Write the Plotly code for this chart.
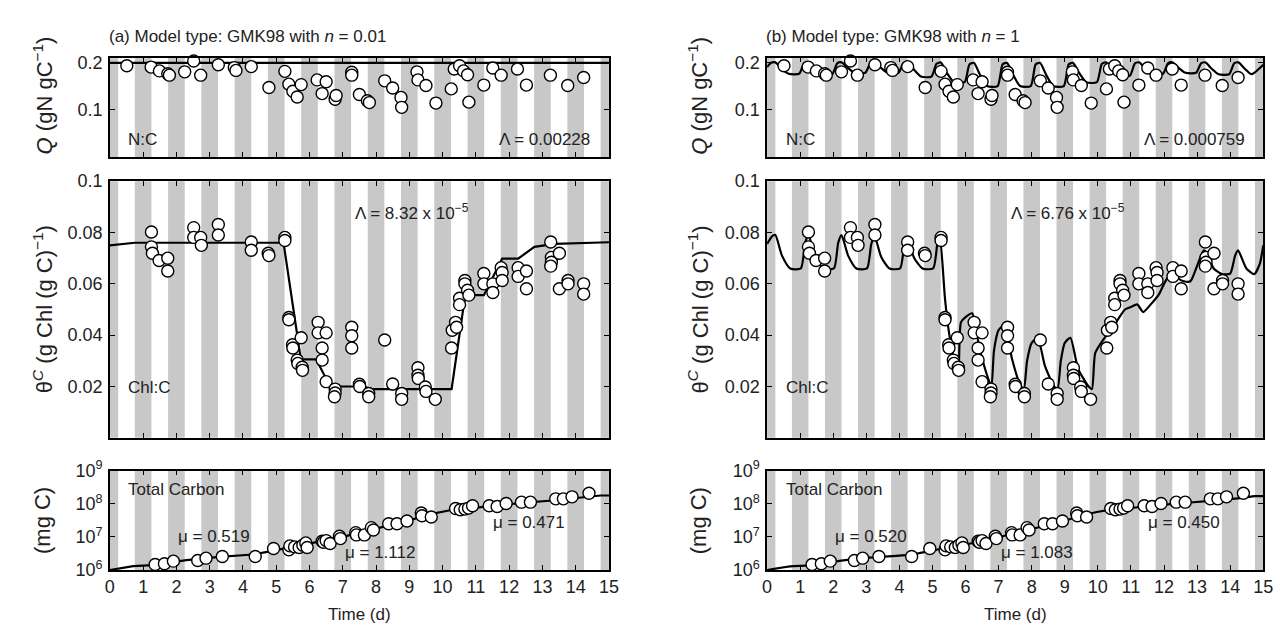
import plotly.graph_objects as go
from plotly.subplots import make_subplots

W, H = 1285, 629
FONT = "Liberation Sans, Arial, sans-serif"

# ---------------- observations (shared by both panels) ----------------
nc_t = [0.51, 1.24, 1.49, 1.74, 1.79, 2.25, 2.52, 2.73, 3.26, 3.74, 3.79, 4.25, 4.78, 5.26, 5.38,
        5.50, 5.63, 5.75, 6.23, 6.50, 6.38, 6.77, 6.80, 7.27, 7.27, 7.50, 7.74, 7.80, 8.26, 8.50,
        8.75, 8.77, 9.23, 9.26, 9.50, 9.80, 10.26, 10.35, 10.51, 10.63, 10.75, 10.79, 11.24, 11.51,
        11.76, 12.25, 12.52, 13.24, 13.76, 14.24]
nc_v = [0.193, 0.190, 0.182, 0.176, 0.173, 0.180, 0.203, 0.173, 0.195, 0.189, 0.183, 0.191, 0.147,
        0.181, 0.154, 0.139, 0.127, 0.153, 0.163, 0.159, 0.134, 0.122, 0.130, 0.179, 0.173, 0.132,
        0.119, 0.115, 0.161, 0.146, 0.126, 0.105, 0.180, 0.163, 0.151, 0.114, 0.144, 0.186, 0.193,
        0.182, 0.174, 0.116, 0.152, 0.188, 0.173, 0.186, 0.152, 0.173, 0.151, 0.168]

chl_t = [1.25, 1.25, 1.28, 1.48, 1.74, 1.74, 2.52, 2.52, 2.73, 2.75, 3.26, 3.26, 4.25, 4.25, 4.76,
         4.78, 5.26, 5.26, 5.38, 5.38, 5.49, 5.50, 5.63, 5.65, 5.75, 5.78, 5.79, 6.26, 6.26, 6.50,
         6.38, 6.38, 6.50, 6.77, 6.77, 6.75, 7.27, 7.27, 7.27, 7.50, 7.51, 7.78, 7.78, 8.26, 8.50,
         8.77, 8.77, 9.26, 9.26, 9.27, 9.48, 9.50, 9.78, 10.27, 10.29, 10.39, 10.42, 10.51, 10.51,
         10.67, 10.67, 10.75, 10.79, 11.24, 11.24, 11.51, 11.51, 11.76, 11.79, 11.79, 12.27, 12.27,
         12.52, 12.52, 13.25, 13.27, 13.27, 13.25, 13.51, 13.51, 13.77, 13.77, 14.24, 14.24]
chl_v = [0.0802, 0.0744, 0.0719, 0.0691, 0.0700, 0.0650, 0.0819, 0.0781, 0.0781, 0.0750, 0.0831,
         0.0790, 0.0763, 0.0731, 0.0719, 0.0710, 0.0781, 0.0769, 0.0469, 0.0460, 0.0363, 0.0350,
         0.0303, 0.0290, 0.0390, 0.0275, 0.0263, 0.0450, 0.0409, 0.0409, 0.0350, 0.0303, 0.0219,
         0.0190, 0.0175, 0.0160, 0.0431, 0.0398, 0.0350, 0.0209, 0.0200, 0.0173, 0.0160, 0.0381,
         0.0210, 0.0173, 0.0150, 0.0273, 0.0244, 0.0231, 0.0198, 0.0181, 0.0150, 0.0350, 0.0419,
         0.0450, 0.0431, 0.0544, 0.0519, 0.0613, 0.0600, 0.0575, 0.0556, 0.0640, 0.0600, 0.0600,
         0.0566, 0.0663, 0.0644, 0.0613, 0.0663, 0.0629, 0.0650, 0.0581, 0.0763, 0.0703, 0.0684,
         0.0669, 0.0719, 0.0581, 0.0613, 0.0600, 0.0600, 0.0560]

tc_t = [1.36, 1.64, 1.91, 2.64, 2.89, 3.38, 4.37, 4.92, 5.38, 5.41, 5.55, 5.69, 5.80, 5.89, 5.93,
        6.38, 6.42, 6.50, 6.62, 6.90, 6.93, 7.39, 7.41, 7.65, 7.86, 7.92, 8.38, 8.63, 8.93, 9.36,
        9.38, 9.66, 10.39, 10.53, 10.67, 10.78, 10.90, 11.40, 11.64, 11.91, 12.37, 12.64, 13.40,
        13.63, 13.89, 14.40]
tc_v = [1.48e6, 1.55e6, 1.86e6, 1.95e6, 2.29e6, 2.57e6, 2.57e6, 4.47e6, 4.07e6, 5.37e6, 5.01e6,
        4.79e6, 5.62e6, 6.61e6, 4.79e6, 7.41e6, 6.92e6, 7.76e6, 6.31e6, 1.05e7, 8.91e6, 1.35e7,
        1.15e7, 1.15e7, 1.91e7, 1.62e7, 2.51e7, 2.51e7, 3.02e7, 5.25e7, 4.37e7, 3.98e7, 7.24e7,
        6.61e7, 6.92e7, 7.41e7, 8.71e7, 8.71e7, 8.32e7, 1.02e8, 1.12e8, 1.12e8, 1.41e8, 1.41e8,
        1.62e8, 2.09e8]

# ---------------- model curves ----------------
a_nc_t = [0.0, 15.0]
a_nc_v = [0.199, 0.199]

a_chl_t = [0.0, 0.75, 5.22, 5.74, 6.20, 6.62, 7.65, 7.84, 10.27, 10.68, 11.24, 11.79, 12.27,
           12.76, 13.37, 15.0]
a_chl_v = [0.0750, 0.0760, 0.0760, 0.0306, 0.0306, 0.0200, 0.0200, 0.0190, 0.0190, 0.0556,
           0.0556, 0.0698, 0.0698, 0.0744, 0.0756, 0.0762]

a_tc_t = [0.0, 0.7, 1.3, 2.3, 3.3, 4.3, 5.0, 5.5, 6.0, 7.0, 8.0, 9.0, 9.6, 10.3, 10.8, 11.3,
          12.3, 13.3, 14.3, 14.75, 15.0]
a_tc_v = [1.0e6, 1.32e6, 1.41e6, 2.0e6, 2.51e6, 2.95e6, 3.98e6, 5.01e6, 6.03e6, 1.0e7, 1.78e7,
          3.16e7, 4.79e7, 6.61e7, 7.24e7, 8.32e7, 1.05e8, 1.26e8, 1.58e8, 1.78e8, 1.78e8]

b_nc_t = [0.00, 0.12,
          0.25, 0.45, 0.65, 0.97, 1.12,
          1.25, 1.45, 1.65, 1.97, 2.12,
          2.25, 2.45, 2.65, 2.97, 3.12,
          3.25, 3.45, 3.65, 3.97, 4.12,
          4.25, 4.45, 4.65, 4.97, 5.12,
          5.25, 5.45, 5.65, 5.97, 6.12,
          6.25, 6.45, 6.65, 6.97, 7.12,
          7.25, 7.45, 7.65, 7.97, 8.12,
          8.25, 8.45, 8.65, 8.97, 9.12,
          9.25, 9.45, 9.65, 9.97, 10.12,
          10.25, 10.45, 10.65, 10.97, 11.12,
          11.25, 11.45, 11.65, 11.97, 12.12,
          12.25, 12.45, 12.65, 12.97, 13.12,
          13.25, 13.45, 13.65, 13.97, 14.12,
          14.25, 14.45, 14.65, 15.00]
b_nc_v = [0.190, 0.199,
          0.200, 0.186, 0.176, 0.176, 0.198,
          0.200, 0.185, 0.175, 0.175, 0.198,
          0.200, 0.188, 0.178, 0.178, 0.198,
          0.200, 0.188, 0.178, 0.178, 0.198,
          0.200, 0.184, 0.170, 0.170, 0.197,
          0.200, 0.176, 0.158, 0.158, 0.196,
          0.199, 0.172, 0.150, 0.150, 0.196,
          0.199, 0.172, 0.150, 0.150, 0.196,
          0.199, 0.172, 0.150, 0.150, 0.196,
          0.199, 0.176, 0.158, 0.158, 0.197,
          0.200, 0.184, 0.172, 0.172, 0.198,
          0.200, 0.186, 0.176, 0.176, 0.198,
          0.200, 0.188, 0.178, 0.178, 0.198,
          0.200, 0.186, 0.175, 0.175, 0.198,
          0.200, 0.186, 0.175, 0.195]

b_chl_t = [0.00, 0.15, 0.25, 0.45, 0.70, 1.02, 1.15,
           1.25, 1.45, 1.70, 2.02, 2.15,
           2.25, 2.45, 2.70, 3.02, 3.15,
           3.25, 3.45, 3.70, 4.02, 4.15,
           4.22, 4.45, 4.70, 5.02, 5.15, 5.22,
           5.38, 5.50, 5.68, 5.78, 5.86, 6.00, 6.20, 6.42, 6.66, 6.78,
           6.86, 7.00, 7.18, 7.40, 7.64, 7.76,
           7.86, 8.00, 8.18, 8.40, 8.68, 8.78,
           8.88, 9.00, 9.17, 9.40, 9.72, 9.82,
           9.92, 10.15, 10.33, 10.60, 10.82, 11.00, 11.19, 11.37, 11.60, 11.85,
           12.00, 12.20, 12.30, 12.45, 12.60, 12.80, 13.00, 13.20, 13.30, 13.50, 13.75,
           14.00, 14.15, 14.24, 14.49, 14.73, 14.90, 15.00]
b_chl_v = [0.0755, 0.0785, 0.0790, 0.0710, 0.0660, 0.0660, 0.0760,
           0.0790, 0.0710, 0.0660, 0.0660, 0.0760,
           0.0790, 0.0710, 0.0660, 0.0660, 0.0755,
           0.0785, 0.0705, 0.0660, 0.0660, 0.0755,
           0.0780, 0.0700, 0.0660, 0.0660, 0.0760, 0.0790,
           0.0540, 0.0410, 0.0290, 0.0250, 0.0450, 0.0470, 0.0485, 0.0350, 0.0240, 0.0200,
           0.0340, 0.0420, 0.0440, 0.0310, 0.0210, 0.0190,
           0.0300, 0.0370, 0.0390, 0.0280, 0.0200, 0.0190,
           0.0300, 0.0370, 0.0390, 0.0270, 0.0200, 0.0190,
           0.0330, 0.0380, 0.0410, 0.0460, 0.0500, 0.0510, 0.0520, 0.0490, 0.0520, 0.0560,
           0.0600, 0.0640, 0.0650, 0.0620, 0.0610, 0.0610, 0.0670, 0.0730, 0.0720, 0.0660, 0.0638,
           0.0640, 0.0710, 0.0730, 0.0660, 0.0638, 0.0680, 0.0750]

b_tc_t = [0.0, 0.7, 1.3, 2.3, 3.3, 4.3, 5.0, 5.5, 6.0, 7.0, 8.0, 9.0, 9.6, 10.3, 10.8, 11.3,
          12.3, 13.3, 14.3, 14.75, 15.0]
b_tc_v = [1.0e6, 1.30e6, 1.38e6, 1.95e6, 2.45e6, 2.88e6, 3.89e6, 4.9e6, 5.9e6, 9.8e6, 1.74e7,
          3.09e7, 4.68e7, 6.46e7, 7.08e7, 8.13e7, 1.0e8, 1.2e8, 1.48e8, 1.7e8, 1.7e8]

# night (grey) periods, days
night_start = [-0.25, 0.75, 1.75, 2.75, 3.75, 4.75, 5.75, 6.75, 7.75, 8.75, 9.75, 10.75,
               11.75, 12.75, 13.75, 14.75]
night_end = [0.25, 1.25, 2.25, 3.25, 4.25, 5.25, 6.25, 7.25, 8.25, 9.25, 10.25, 11.25,
             12.25, 13.25, 14.25, 15.25]

panel_titles = ["(a) Model type: GMK98 with <i>n</i> = 0.01", "(b) Model type: GMK98 with <i>n</i> = 1"]
lambda_nc = ["Λ = 0.00228", "Λ = 0.000759"]
lambda_chl = ["Λ = 8.32 x 10<sup>−5</sup>", "Λ = 6.76 x 10<sup>−5</sup>"]
mu_labels = [["μ = 0.519", "μ = 1.112", "μ = 0.471"], ["μ = 0.520", "μ = 1.083", "μ = 0.450"]]
mu_pos_t = [[2.0, 7.0, 11.45], [2.0, 7.0, 11.45]]
mu_pos_logv = [7.02, 6.52, 7.45]

models = [
    dict(nc=(a_nc_t, a_nc_v), chl=(a_chl_t, a_chl_v), tc=(a_tc_t, a_tc_v), shape="linear"),
    dict(nc=(b_nc_t, b_nc_v), chl=(b_chl_t, b_chl_v), tc=(b_tc_t, b_tc_v), shape="spline"),
]

# ---------------- layout geometry (pixels) ----------------
xdom_px = [(98, 603), (763, 1265)]
ydom_px = [(39, 142), (167, 433), (467, 570)]  # from top


def ydom(top, bot):
    return [1 - bot / H, 1 - top / H]


fig = make_subplots(rows=3, cols=2)

GREY = "#c8c8c8"
marker = dict(symbol="circle", size=12, color="white", line=dict(color="black", width=1.4))

for c in range(2):
    m = models[c]
    for r, (obs_t, obs_v, key) in enumerate([(nc_t, nc_v, "nc"), (chl_t, chl_v, "chl"), (tc_t, tc_v, "tc")]):
        mt, mv = m[key]
        if m["shape"] == "spline":
            ln = dict(color="black", width=2.2, shape="spline", smoothing=0.6)
        else:
            ln = dict(color="black", width=2.2)
        fig.add_trace(go.Scatter(x=mt, y=mv, mode="lines", line=ln, hoverinfo="skip",
                                 showlegend=False), row=r + 1, col=c + 1)
        fig.add_trace(go.Scatter(x=obs_t, y=obs_v, mode="markers", marker=marker, showlegend=False,
                                 cliponaxis=False), row=r + 1, col=c + 1)

axis_common = dict(showline=True, linecolor="black", linewidth=1.6, mirror="allticks", ticks="inside",
                   ticklen=5, tickwidth=1, tickcolor="black", showgrid=False, zeroline=False,
                   tickfont=dict(family=FONT, size=18, color="#222"))

yranges = [[0, 0.21], [0, 0.1], [6, 9]]
ytickvals = [[0.1, 0.2], [0.02, 0.04, 0.06, 0.08, 0.1], [1e6, 1e7, 1e8, 1e9]]
yticktext = [["0.1", "0.2"], ["0.02", "0.04", "0.06", "0.08", "0.1"],
             ["10<sup>6</sup>", "10<sup>7</sup>", "10<sup>8</sup>", "10<sup>9</sup>"]]

for r in range(3):
    for c in range(2):
        idx = r * 2 + c + 1
        xa = "xaxis" if idx == 1 else f"xaxis{idx}"
        ya = "yaxis" if idx == 1 else f"yaxis{idx}"
        fig.layout[xa].update(domain=[xdom_px[c][0] / W, xdom_px[c][1] / W], range=[0, 15],
                              tickvals=list(range(16)), showticklabels=(r == 2), **axis_common)
        yextra = dict(type="log") if r == 2 else {}
        fig.layout[ya].update(domain=ydom(*ydom_px[r]), range=yranges[r], tickvals=ytickvals[r],
                              ticktext=yticktext[r], ticklabelstandoff=2, **yextra, **axis_common)
        xref = "x" if idx == 1 else f"x{idx}"
        yref = "y" if idx == 1 else f"y{idx}"
        for s, e in zip(night_start, night_end):
            fig.add_shape(type="rect", xref=xref, yref=yref + " domain", x0=max(s, 0), x1=min(e, 15),
                          y0=0, y1=1, fillcolor=GREY, line=dict(width=0), layer="below")

ann = []
tf = dict(family=FONT, size=17, color="#222")


def xr(i):
    return "x" if i == 1 else f"x{i}"


def yr(i):
    return "y" if i == 1 else f"y{i}"


ylabels = ["<i>Q</i> (gN gC<sup>−1</sup>)", "θ<sup><i>C</i></sup> (g Chl (g C)<sup>−1</sup>)", "(mg C)"]

for c in range(2):
    i1, i2, i3 = 1 + c, 3 + c, 5 + c
    ann.append(dict(text=panel_titles[c], xref="paper", yref="paper", x=(xdom_px[c][0] - 3) / W,
                    y=1 - 17 / H, xanchor="left", yanchor="middle", showarrow=False, font=tf))
    ann.append(dict(text="N:C", xref=xr(i1), yref=yr(i1), x=0.5, y=0.036, xanchor="left",
                    yanchor="middle", showarrow=False, font=tf))
    ann.append(dict(text=lambda_nc[c], xref=xr(i1), yref=yr(i1), x=14.5, y=0.036, xanchor="right",
                    yanchor="middle", showarrow=False, font=tf))
    ann.append(dict(text=lambda_chl[c], xref=xr(i2), yref=yr(i2), x=7.3, y=0.088, xanchor="left",
                    yanchor="middle", showarrow=False, font=tf))
    ann.append(dict(text="Chl:C", xref=xr(i2), yref=yr(i2), x=0.5, y=0.0195, xanchor="left",
                    yanchor="middle", showarrow=False, font=tf))
    ann.append(dict(text="Total Carbon", xref=xr(i3), yref=yr(i3), x=0.5, y=8.42, xanchor="left",
                    yanchor="middle", showarrow=False, font=tf))
    for k in range(3):
        ann.append(dict(text=mu_labels[c][k], xref=xr(i3), yref=yr(i3), x=mu_pos_t[c][k],
                        y=mu_pos_logv[k], xanchor="left", yanchor="middle", showarrow=False, font=tf))
    xl = (30 if c == 0 else 693) / W
    for r in range(3):
        top, bot = ydom_px[r]
        yc = (top + bot) / 2 - (12 if r == 0 else 0)
        ann.append(dict(text=ylabels[r], xref="paper", yref="paper", x=xl, y=1 - yc / H,
                        xanchor="center", yanchor="middle", textangle=-90, showarrow=False,
                        font=dict(family=FONT, size=22, color="#222")))
    ann.append(dict(text="Time (d)", xref="paper", yref="paper",
                    x=(xdom_px[c][0] + xdom_px[c][1]) / 2 / W, y=1 - 616 / H, xanchor="center",
                    yanchor="middle", showarrow=False, font=tf))

fig.update_layout(width=W, height=H, margin=dict(l=0, r=0, t=0, b=0), paper_bgcolor="white",
                  plot_bgcolor="white", annotations=ann, showlegend=False,
                  font=dict(family=FONT, size=17, color="#222"))

fig.write_html("out.html")
